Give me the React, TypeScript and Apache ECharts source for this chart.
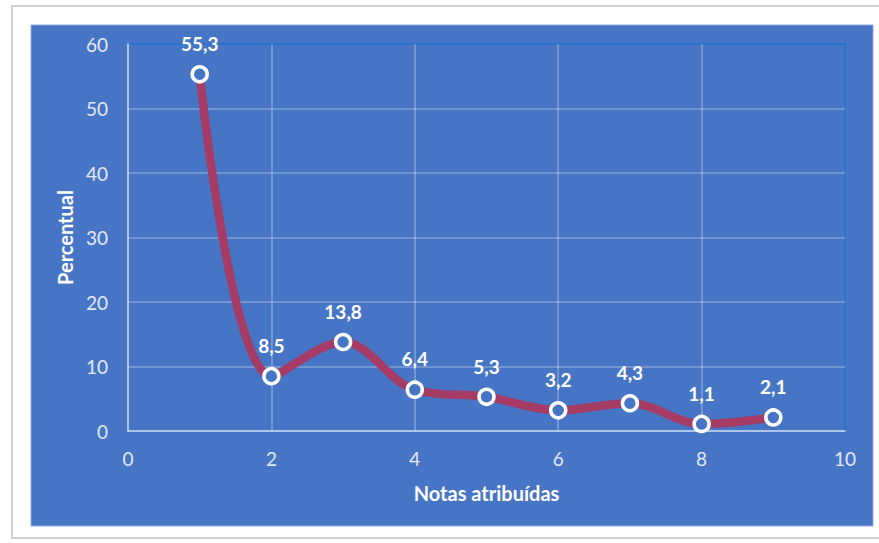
import React, { useEffect, useRef } from "react";
import * as echarts from "echarts";

// Notas atribuídas (1 a 9) e percentual de respostas em cada nota
const notas = [1, 2, 3, 4, 5, 6, 7, 8, 9];
const percentual = [55.3, 8.5, 13.8, 6.4, 5.3, 3.2, 4.3, 1.1, 2.1];

const xTicks = { min: 0, max: 10, interval: 2 };
const yTicks = { min: 0, max: 60, interval: 10 };

const FONT = "Lato, 'Open Sans', sans-serif";
const PANEL_BLUE = "#4775c5";
const LABEL_COLOR = "#e3e9f5";

export default function App() {
  const ref = useRef<HTMLDivElement>(null);

  useEffect(() => {
    if (!ref.current) return;
    const chart = echarts.init(ref.current, undefined, { renderer: "svg" });

    chart.setOption({
      animation: false,
      backgroundColor: "#ffffff",
      textStyle: { fontFamily: FONT },
      graphic: [
        {
          type: "rect",
          z: -10,
          silent: true,
          shape: { x: 12, y: 6, width: 880, height: 532 },
          style: { fill: "#ffffff", stroke: "#d0d0d0", lineWidth: 2 },
        },
        {
          type: "rect",
          z: -9,
          silent: true,
          shape: { x: 31, y: 25, width: 842, height: 501 },
          style: { fill: PANEL_BLUE, stroke: "#8fa9dc", lineWidth: 1 },
        },
      ],
      grid: {
        left: 128,
        right: 34,
        top: 44,
        bottom: 112,
        show: true,
        backgroundColor: "transparent",
        borderColor: "#1f74cc",
        borderWidth: 1.5,
      },
      xAxis: {
        type: "value",
        ...xTicks,
        name: "Notas atribuídas",
        nameLocation: "middle",
        nameGap: 52,
        nameTextStyle: { color: "#ffffff", fontSize: 20, fontWeight: "bold", fontFamily: FONT },
        axisLine: { show: true, lineStyle: { color: "#c9d6ee", width: 1.5 } },
        axisTick: { show: false },
        axisLabel: { color: LABEL_COLOR, fontSize: 19, margin: 18, fontFamily: FONT },
        splitLine: {
          show: true,
          showMaxLine: false,
          lineStyle: { color: "rgba(255,255,255,0.32)", width: 1.5 },
        },
      },
      yAxis: {
        type: "value",
        ...yTicks,
        name: "Percentual",
        nameLocation: "middle",
        nameGap: 52,
        nameRotate: 90,
        nameTextStyle: { color: "#ffffff", fontSize: 20, fontWeight: "bold", fontFamily: FONT },
        axisLine: { show: true, lineStyle: { color: "#c9d6ee", width: 1.5 } },
        axisTick: { show: false },
        axisLabel: { color: LABEL_COLOR, fontSize: 19, margin: 20, fontFamily: FONT },
        splitLine: {
          show: true,
          showMaxLine: false,
          lineStyle: { color: "rgba(255,255,255,0.32)", width: 1.5 },
        },
      },
      series: [
        {
          type: "line",
          data: notas.map((n, i) => [n, percentual[i]]),
          smooth: 0.35,
          lineStyle: { color: "#a63b66", width: 8.5 },
          symbol: "circle",
          symbolSize: 15,
          itemStyle: { color: PANEL_BLUE, borderColor: "#ffffff", borderWidth: 3.5 },
          label: {
            show: true,
            position: "top",
            distance: 12,
            color: "#ffffff",
            fontSize: 19,
            fontWeight: "bold",
            fontFamily: FONT,
            formatter: (p: any) => p.value[1].toFixed(1).replace(".", ","),
          },
          z: 5,
        },
      ],
    });

    return () => chart.dispose();
  }, []);

  return (
    <div
      ref={ref}
      style={{ position: "fixed", left: 0, top: 0, width: 879, height: 543 }}
    />
  );
}
